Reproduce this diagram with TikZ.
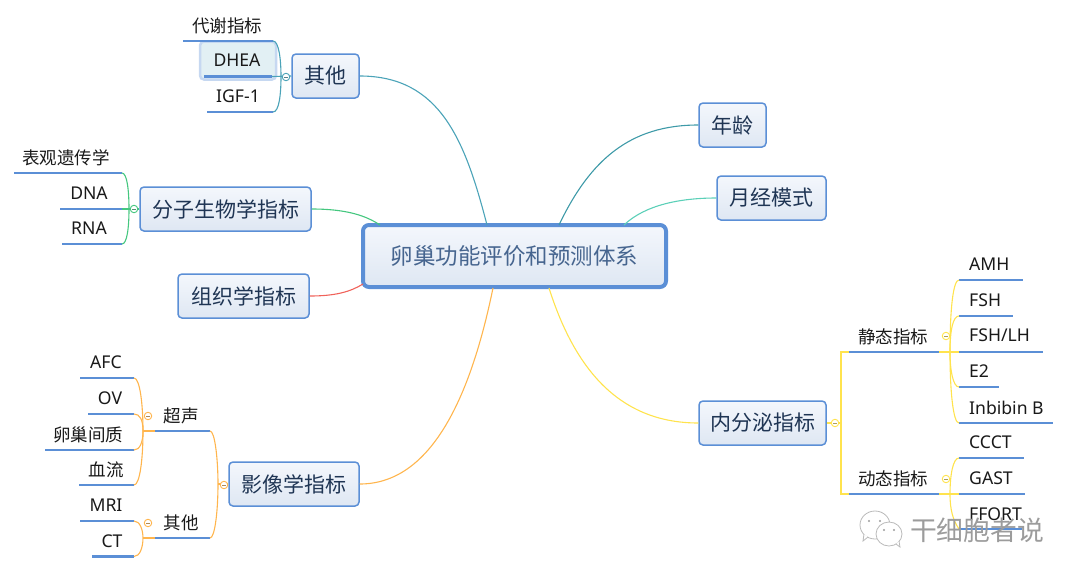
\documentclass[tikz,border=0pt]{standalone}
\usepackage{fontspec}
\setmainfont{Noto Sans}
\newfontfamily\cjk{Noto Sans CJK SC}
\definecolor{boxline}{HTML}{5B8FD6}
\definecolor{boxtop}{HTML}{F4F7FC}
\definecolor{boxbot}{HTML}{DEE7F3}
\definecolor{boxtext}{HTML}{1F3554}
\definecolor{roottext}{HTML}{46658F}
\definecolor{ulinecol}{HTML}{5B8FD6}
\definecolor{teal1}{HTML}{4BA3B8}
\definecolor{teal2}{HTML}{3E9AA8}
\definecolor{mint}{HTML}{5CD0B8}
\definecolor{green1}{HTML}{45C77F}
\definecolor{red1}{HTML}{F0625A}
\definecolor{orange1}{HTML}{FFB54D}
\definecolor{yellow1}{HTML}{FFE34D}
\definecolor{wm}{HTML}{9C9C9C}
\tikzset{
  topicbox/.style={draw=boxline,line width=1.5pt,rounded corners=4pt,top color=boxtop,bottom color=boxbot,text=boxtext,font=\cjk\fontsize{21}{24}\selectfont,inner sep=0pt,minimum height=44pt},
  rootbox/.style={topicbox,line width=4pt,rounded corners=6pt,text=roottext,font=\cjk\fontsize{22.5}{26}\selectfont,minimum height=62pt,minimum width=303pt},
  leaftext/.style={inner sep=0pt,text=black!90,font=\fontsize{17.6}{20}\selectfont},
  uline/.style={ulinecol,line width=2.8pt},
  conn/.style={line width=1.1pt}
}
\newcommand{\cj}[1]{{\cjk\fontsize{17.5}{20}\selectfont #1}}
\newcommand{\bx}[1]{\raisebox{-3pt}{#1}}
\newcommand{\leaf}[7]{%
  \coordinate (#1-l) at (#2,#4);
  \coordinate (#1-r) at (#3,#4);
  \draw[uline] (#1-l) -- (#1-r);
  \node[leaftext] (#1) at (#5,#6) {#7};
}
\newcommand{\leafw}[6]{%
  \coordinate (#1-l) at (#2,#4);
  \coordinate (#1-r) at (#3,#4);
  \draw[uline] (#1-l) -- (#1-r);
  \node[leaftext,anchor=west] (#1) at (969,#5) {#6};
}
\newcommand{\fold}[4]{%
  \node[circle,draw=#4,fill=white,line width=0.9pt,minimum size=7.5pt,inner sep=0pt] (#1) at (#2,#3) {};
  \draw[#4!60!black!80,line width=0.7pt] ($(#1.center)+(-2,0)$) -- ($(#1.center)+(2,0)$);
}
\usetikzlibrary{calc}
\begin{document}
\begin{tikzpicture}[x=1pt,y=-1pt]
\useasboundingbox (0,0) rectangle (1080,579);
% highlight behind DHEA
\node[draw=boxline!35,fill=teal1!16,line width=2.5pt,rounded corners=4pt,minimum width=76pt,minimum height=38pt,inner sep=0pt] (dheabg) at (238,60.5) {};
% boxes
\node[rootbox] (root) at (514.5,256) {\bx{卵巢功能评价和预测体系}};
\node[topicbox,minimum width=67pt] (qita) at (325.5,76) {\bx{其他}};
\node[topicbox,minimum width=171pt] (fenzi) at (225.5,209) {\bx{分子生物学指标}};
\node[topicbox,minimum width=131pt] (zuzhi) at (243.5,296) {\bx{组织学指标}};
\node[topicbox,minimum width=130pt] (yingxiang) at (294,484) {\bx{影像学指标}};
\node[topicbox,minimum width=67pt] (nianling) at (732.5,125) {\bx{年龄}};
\node[topicbox,minimum width=109pt] (yuejing) at (771.5,198) {\bx{月经模式}};
\node[topicbox,minimum width=127pt] (neifen) at (762.5,423) {\bx{内分泌指标}};
% anchor points on the root box
\coordinate (r-qita) at (487,225);
\coordinate (r-nian) at (559,225);
\coordinate (r-yue) at (624,225);
\coordinate (r-fen) at (380,225);
\coordinate (r-zu) at (363,284);
\coordinate (r-ying) at (493,288);
\coordinate (r-nei) at (549,288);
% leaves
\leaf{daixie}{183}{273}{41}{227}{25.5}{\cj{代谢指标}}
\leaf{dhea}{204}{272}{76.5}{237}{60.5}{DHEA}
\leaf{igf}{207}{273}{112}{238}{96.5}{IGF-1}
\leaf{biao}{14}{122}{173}{66}{157.5}{\cj{表观遗传学}}
\leaf{dna}{60}{122}{209}{89}{193.5}{DNA}
\leaf{rna}{62}{122}{244}{89}{228.5}{RNA}
\leaf{chao}{155}{210}{431}{181}{415.5}{\cj{超声}}
\leaf{qt}{155}{210}{538}{181}{522.5}{\cj{其他}}
\leaf{afc}{80}{134}{378}{106}{362.5}{AFC}
\leaf{ov}{88}{134}{414}{110}{398.5}{OV}
\leaf{luan}{45}{134}{450}{88}{434.5}{\cj{卵巢间质}}
\leaf{xue}{79}{134}{485}{106}{469.5}{\cj{血流}}
\leaf{mri}{80}{134}{521}{106}{505.5}{MRI}
\leaf{ct}{92}{134}{556.5}{112}{541.5}{CT}
\leaf{jing}{849}{939}{352}{893}{336.5}{\cj{静态指标}}
\leaf{dong}{849}{939}{494}{893}{478.5}{\cj{动态指标}}
\leafw{amh}{959}{1023}{280}{264.5}{AMH}
\leafw{fsh}{959}{1013}{316}{300.5}{FSH}
\leafw{fshlh}{959}{1043}{352}{335.5}{FSH/LH}
\leafw{e2}{959}{999}{387}{371.5}{E2}
\leafw{inh}{959}{1053}{423}{407.5}{Inbibin B}
\leafw{ccct}{959}{1024}{458}{442.5}{CCCT}
\leafw{gast}{959}{1025}{494}{478.5}{GAST}
\leafw{ffort}{959}{1022}{529}{514.5}{FFORT}
% main connectors
\draw[conn,teal1] (qita.east) .. controls (440,76) and (465,140) .. (r-qita);
\draw[conn,teal2] (nianling.west) .. controls (630,125) and (590,160) .. (r-nian);
\draw[conn,mint] (yuejing.west) .. controls (680,198) and (645,205) .. (r-yue);
\draw[conn,green1] (fenzi.east) .. controls (345,209) and (365,215) .. (r-fen);
\draw[conn,red1] (zuzhi.east) .. controls (335,296) and (350,292) .. (r-zu);
\draw[conn,orange1] (yingxiang.east) .. controls (430,484) and (470,400) .. (r-ying);
\draw[conn,yellow1] (neifen.west) .. controls (620,423) and (575,370) .. (r-nei);
% sub connectors: other
\draw[conn,teal1] (dhea-r) -- (qita.west);
\draw[conn,teal1] (daixie-r) .. controls (279,41) and (281,60) .. (281,76.5) .. controls (281,95) and (279,112) .. (igf-r);
% molecular
\draw[conn,green1] (dna-r) -- (fenzi.west);
\draw[conn,green1] (biao-r) .. controls (127,173) and (129,190) .. (129,209) .. controls (129,228) and (127,244) .. (rna-r);
% imaging
\draw[conn,orange1] (chao-r) .. controls (215,431) and (218,460) .. (218,484) .. controls (218,510) and (215,538) .. (qt-r);
\draw[conn,orange1] (218,484) -- (yingxiang.west);
\draw[conn,orange1] (afc-r) .. controls (140,378) and (143,405) .. (143,431) .. controls (143,458) and (140,485) .. (xue-r);
\draw[conn,orange1] (ov-r) .. controls (140,414) and (143,420) .. (143,431) .. controls (143,442) and (140,450) .. (luan-r);
\draw[conn,orange1] (143,431) -- (chao-l);
\draw[conn,orange1] (mri-r) .. controls (140,521) and (143,530) .. (143,538) .. controls (143,547) and (140,556.5) .. (ct-r);
\draw[conn,orange1] (143,538) -- (qt-l);
% endocrine
\draw[conn,yellow1] (neifen.east) -- (841,423);
\draw[conn,yellow1] (jing-l) -- (841,352) -- (841,494) -- (dong-l);
\draw[conn,yellow1] (jing-r) -- (fshlh-l);
\draw[conn,yellow1] (amh-l) .. controls (953,280) and (950,310) .. (950,352) .. controls (950,390) and (953,423) .. (inh-l);
\draw[conn,yellow1] (fsh-l) .. controls (953,316) and (950,330) .. (950,352) .. controls (950,370) and (953,387) .. (e2-l);
\draw[conn,yellow1] (dong-r) -- (gast-l);
\draw[conn,yellow1] (ccct-l) .. controls (953,458) and (950,475) .. (950,494) .. controls (950,510) and (953,520) .. (ffort-l);
% fold markers
\fold{f1}{286}{77}{teal1}
\fold{f2}{134}{209}{green1}
\fold{f3}{224}{485}{orange1}
\fold{f4}{148}{416}{orange1}
\fold{f5}{148}{523}{orange1}
\fold{f6}{835}{423}{yellow1}
\fold{f7}{946}{336}{yellow1}
\fold{f8}{946}{479}{yellow1}
% watermark
\draw[wm!70,fill=white,line width=0.8pt] (875,525) ellipse (15 and 14);
\draw[wm!70,fill=white,line width=0.8pt] (868,537) -- (863,541) -- (864,534);
\draw[wm!70,fill=white,line width=0.8pt] (889,534) ellipse (13 and 12);
\draw[wm!70,fill=white,line width=0.8pt] (896,544) -- (900,547) -- (899,541);
\fill[wm] (869,521) circle (1.2) (880,521) circle (1.2) (884,530) circle (1.2) (894,530) circle (1.2);
\node[inner sep=0pt,text=wm,font=\cjk\fontsize{26.8}{30}\selectfont] (wmtext) at (977,530) {干细胞者说};
\end{tikzpicture}
\end{document}
